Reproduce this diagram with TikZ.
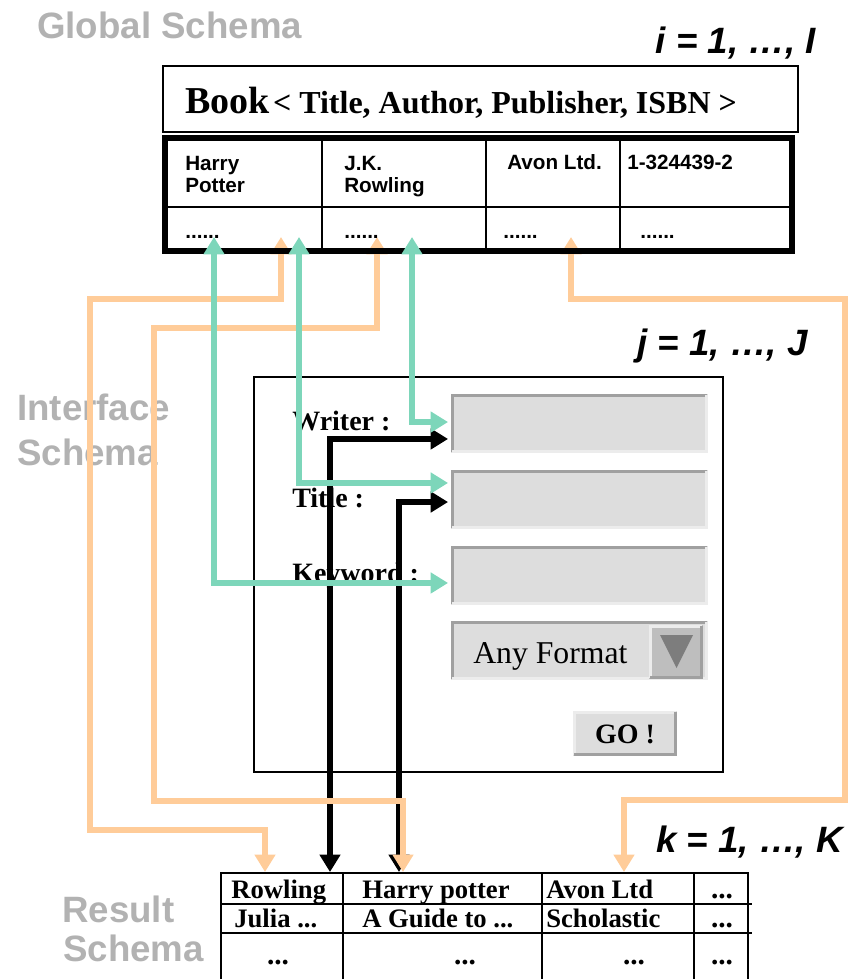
\documentclass[tikz,border=0pt]{standalone}
\usepackage{fontspec}
\setmainfont{Liberation Serif}
\setsansfont{Liberation Sans}
\usetikzlibrary{arrows.meta}

\definecolor{schemagray}{RGB}{178,178,178}
\definecolor{linkorange}{RGB}{255,204,153}
\definecolor{linkgreen}{RGB}{125,214,186}
\definecolor{fieldfill}{RGB}{221,221,221}
\definecolor{bevdark}{RGB}{160,160,160}
\definecolor{bevlight}{RGB}{236,236,236}
\definecolor{knobfill}{RGB}{190,190,190}
\definecolor{knobtri}{RGB}{125,125,125}

% 3-D edges for form widgets
\newcommand{\sunkenedge}[1]{%
  \draw[bevdark, line width=2.2pt] ([shift={(1.1pt,1.1pt)}]#1.south west) |- ([shift={(-1.1pt,-1.1pt)}]#1.north east);
  \draw[bevlight, line width=2.2pt] ([shift={(1.1pt,1.1pt)}]#1.south west) -| ([shift={(-1.1pt,-1.1pt)}]#1.north east);}
\newcommand{\raisededge}[1]{%
  \draw[bevlight, line width=2.2pt] ([shift={(1.1pt,1.1pt)}]#1.south west) |- ([shift={(-1.1pt,-1.1pt)}]#1.north east);
  \draw[bevdark, line width=2.2pt] ([shift={(1.1pt,1.1pt)}]#1.south west) -| ([shift={(-1.1pt,-1.1pt)}]#1.north east);}

\begin{document}
\begin{tikzpicture}[x=0.75pt,y=-0.75pt,
  schemalabel/.style={font=\sffamily\bfseries\fontsize{27.5}{33}\selectfont, text=schemagray, anchor=base west, inner sep=0pt},
  indexlabel/.style={font=\sffamily\bfseries\itshape\fontsize{27.5}{33}\selectfont, anchor=base east, inner sep=0pt},
  cellsans/.style={font=\sffamily\bfseries\fontsize{15.5}{17}\selectfont, anchor=base west, inner sep=0pt},
  formlabel/.style={font=\bfseries\fontsize{21}{25}\selectfont, anchor=base west, inner sep=0pt},
  resulttext/.style={font=\bfseries\fontsize{20}{24}\selectfont, anchor=base west, inner sep=0pt},
  resultdots/.style={font=\bfseries\fontsize{22}{24}\selectfont, anchor=base, inner sep=0pt},
  link/.style={line width=4.3pt, {Triangle[length=13pt,width=15pt]}-{Triangle[length=13pt,width=15pt]}},
  orangelink/.style={link, draw=linkorange},
  greenlink/.style={link, draw=linkgreen},
  blacklink/.style={link, draw=black},
  field/.style={fill=fieldfill, draw=none, minimum width=192.75pt, minimum height=44.25pt, inner sep=0pt},
  frame/.style={draw=black, line width=1.6pt, inner sep=0pt},
  grid/.style={line width=2pt},
]
\useasboundingbox (0,0) rectangle (853,979);

% side labels
\node[schemalabel] (lglobal) at (37,38) {Global Schema};
\node[schemalabel] (liface1) at (17,420) {Interface};
\node[schemalabel] (liface2) at (17,465) {Schema};
\node[schemalabel] (lresult1) at (62,922) {Result};
\node[schemalabel] (lresult2) at (63,961) {Schema};

% index ranges
\node[indexlabel] (idxi) at (816,53) {i = 1, …, I};
\node[indexlabel] (idxj) at (808,355) {j = 1, …, J};
\node[indexlabel] (idxk) at (843,852) {k = 1, …, K};

% ---------- interface form ----------
\node[frame, minimum width=351.75pt, minimum height=296.25pt] (form) at (488.5,574.5) {};

\node[field] (fwriter) at (579.5,423.5) {};
\node[field] (ftitle)  at (579.5,499.5) {};
\node[field] (fkey)    at (579.5,575.5) {};
\node[field] (fformat) at (579.5,650.5) {};
\sunkenedge{fwriter}
\sunkenedge{ftitle}
\sunkenedge{fkey}
\sunkenedge{fformat}
\node[fill=knobfill, inner sep=0pt, minimum width=40.5pt, minimum height=40.5pt] (knob) at (676,652) {};
\raisededge{knob}
\fill[knobtri] (660,635) -- (693,635) -- (676.5,668) -- cycle;
\node[font=\fontsize{23.8}{28}\selectfont, anchor=base west, inner sep=0pt] (anyfmt) at (473,663) {Any Format};

\node[fill=fieldfill, inner sep=0pt, minimum width=78pt, minimum height=33.75pt] (gobtn) at (625,733.5) {};
\raisededge{gobtn}
\node[font=\bfseries\fontsize{21}{25}\selectfont, anchor=base, inner sep=0pt] (gotext) at (625,743) {GO !};

\node[formlabel] (lwriter) at (292,430) {Writer :};
\node[formlabel] (ltitle)  at (292,507) {Title :};
\node[formlabel] (lkey)    at (292,582) {Keyword :};

% ---------- connector end points ----------
\coordinate (gtA) at (214,237);
\coordinate (gtB) at (299,237);
\coordinate (gtC) at (412,237);
\coordinate (otA) at (281,237);
\coordinate (otB) at (377,237);
\coordinate (otC) at (571,237);
\coordinate (rbA) at (330,872);
\coordinate (rbB) at (399,872);
\coordinate (roA) at (265,872);
\coordinate (roB) at (403,872);
\coordinate (roC) at (624,872);
\coordinate (oA1) at (90,299);
\coordinate (oA2) at (90,830);
\coordinate (oB1) at (154,328);
\coordinate (oB2) at (154,801);
\coordinate (oC1) at (845,299);
\coordinate (oC2) at (845,800);

% result -> form
\draw[blacklink] (rbA) |- ([shift={(-2pt,-11.6pt)}]fwriter.west);
\draw[blacklink] (rbB) |- ([shift={(-2pt,-1.9pt)}]ftitle.west);

% global -> result
\draw[orangelink] (otA) |- (oA1) -- (oA2) -| (roA);
\draw[orangelink] (otB) |- (oB1) -- (oB2) -| (roB);
\draw[orangelink] (otC) |- (oC1) -- (oC2) -| (roC);

% ---------- global schema ----------
\node[frame, minimum width=476.25pt, minimum height=49.5pt] (book) at (480.5,99) {};
\node[anchor=base west, inner sep=0pt, font=\bfseries] (booktext) at (185,113)
  {{\fontsize{28.5}{32}\selectfont Book} {\fontsize{24}{28}\selectfont < Title, Author, Publisher, ISBN >}};

\node[draw=black, line width=4pt, inner sep=0pt, minimum width=470.25pt, minimum height=84.75pt] (gtab) at (478.5,194.5) {};
\draw[grid] (165,207) -- (792,207);
\draw[grid] (322,138) -- (322,251);
\draw[grid] (486,138) -- (486,251);
\draw[grid] (620,138) -- (620,251);

\node[cellsans] (ctitle) at (185,170) {\begin{tabular}[t]{@{}l@{}}Harry\\Potter\end{tabular}};
\node[cellsans] (cauthor) at (344,170) {\begin{tabular}[t]{@{}l@{}}J.K.\\Rowling\end{tabular}};
\node[cellsans] (cpub) at (507,169) {Avon Ltd.};
\node[cellsans] (cisbn) at (627,169) {1-324439-2};
\node[cellsans] (dA) at (185,238) {......};
\node[cellsans] (dB) at (344,238) {......};
\node[cellsans] (dC) at (503,238) {......};
\node[cellsans] (dD) at (640,238) {......};

% global -> form
\draw[greenlink] (gtA) |- ([shift={(-2pt,-5.6pt)}]fkey.west);
\draw[greenlink] (gtB) |- ([shift={(-2pt,12.4pt)}]ftitle.west);
\draw[greenlink] (gtC) |- ([shift={(-2pt,1.1pt)}]fwriter.west);

% ---------- result schema ----------
\draw[line width=1.6pt] (221,990) |- (748,873) -- (748,990);
\draw[line width=1.6pt] (221,904) -- (752,904);
\draw[line width=1.6pt] (221,933) -- (752,933);
\draw[line width=1.6pt] (343,873) -- (343,990);
\draw[line width=1.6pt] (542,873) -- (542,990);
\draw[line width=1.6pt] (694,873) -- (694,990);

\node[resulttext] (r11) at (231,898) {Rowling};
\node[resulttext] (r12) at (362,898) {Harry potter};
\node[resulttext] (r13) at (546,898) {Avon Ltd};
\node[resultdots] (r14) at (722,898) {...};
\node[resulttext] (r21) at (234,927) {Julia ...};
\node[resulttext] (r22) at (362,927) {A Guide to ...};
\node[resulttext] (r23) at (546,927) {Scholastic};
\node[resultdots] (r24) at (722,927) {...};
\node[resultdots] (r31) at (278,964) {...};
\node[resultdots] (r32) at (465,964) {...};
\node[resultdots] (r33) at (634,964) {...};
\node[resultdots] (r34) at (722,964) {...};
\end{tikzpicture}
\end{document}
